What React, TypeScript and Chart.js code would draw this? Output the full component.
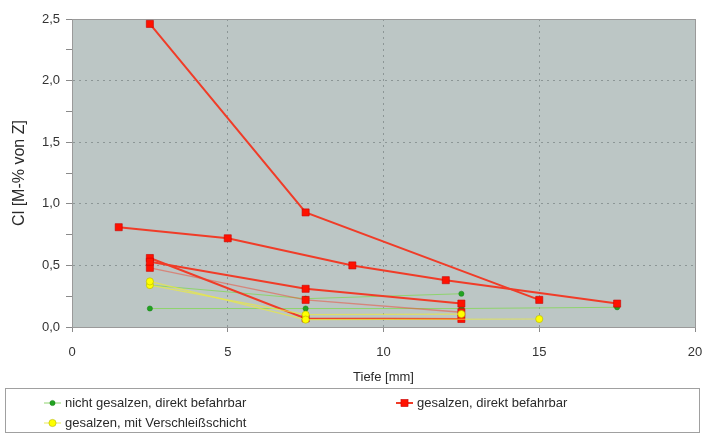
import React, { useEffect, useRef } from "react";
import { Chart, registerables } from "chart.js";

Chart.register(...registerables);

// ---- Data ----
const groupLabels = [
  "nicht gesalzen, direkt befahrbar",
  "gesalzen, direkt befahrbar",
  "gesalzen, mit Verschleißschicht",
];

// nicht gesalzen, direkt befahrbar
const green1X = [2.5, 7.5, 12.5, 17.5];
const green1Y = [0.15, 0.15, 0.15, 0.16];
const green2X = [2.5, 7.5, 12.5];
const green2Y = [0.34, 0.23, 0.27];

// gesalzen, direkt befahrbar
const red1X = [2.5, 7.5, 15];
const red1Y = [2.46, 0.93, 0.22];
const red2X = [1.5, 5, 9, 12, 17.5];
const red2Y = [0.81, 0.72, 0.5, 0.38, 0.19];
const red3X = [2.5, 7.5, 12.5];
const red3Y = [0.53, 0.31, 0.19];
const red4X = [2.5, 7.5, 12.5];
const red4Y = [0.48, 0.22, 0.12];
const red5X = [2.5, 7.5, 12.5];
const red5Y = [0.56, 0.07, 0.065];

// gesalzen, mit Verschleißschicht
const yellow1X = [2.5, 7.5, 15];
const yellow1Y = [0.37, 0.06, 0.065];
const yellow2X = [2.5, 7.5, 12.5];
const yellow2Y = [0.34, 0.1, 0.105];

const xTicks = [0, 5, 10, 15, 20];
const xAxisTitle = "Tiefe [mm]";
const yAxisTitle = "Cl [M-% von Z]";

const pts = (xs: number[], ys: number[]) => xs.map((x, i) => ({ x, y: ys[i] }));

const FONT = "'Liberation Sans', Arial, sans-serif";

const greenStyle = {
  borderColor: "#8fd46e",
  borderWidth: 1,
  pointStyle: "circle",
  pointRadius: 2.6,
  pointBackgroundColor: "#22a322",
  pointBorderColor: "#178017",
  pointBorderWidth: 0.5,
  order: 3,
};
const redStyle = {
  borderColor: "#f03c28",
  borderWidth: 2,
  pointStyle: "rect",
  pointRadius: 5,
  pointBackgroundColor: "#ff1100",
  pointBorderColor: "#c80000",
  pointBorderWidth: 0.6,
  order: 2,
};
const yellowStyle = {
  borderColor: "rgba(232,232,70,0.75)",
  borderWidth: 1.2,
  pointStyle: "circle",
  pointRadius: 3.6,
  pointBackgroundColor: "#ffff00",
  pointBorderColor: "#b5b500",
  pointBorderWidth: 0.6,
  order: 1,
};

const bgPlugin = {
  id: "plotBg",
  beforeDraw(chart: any) {
    const { ctx, chartArea: a } = chart;
    ctx.save();
    ctx.fillStyle = "#bcc6c5";
    ctx.fillRect(a.left, a.top, a.right - a.left, a.bottom - a.top);
    ctx.restore();
  },
  beforeDatasetsDraw(chart: any) {
    const { ctx, chartArea: a } = chart;
    ctx.save();
    ctx.strokeStyle = "#9a9a9a";
    ctx.lineWidth = 1;
    ctx.strokeRect(Math.round(a.left) + 0.5, Math.round(a.top) + 0.5, Math.round(a.right - a.left), Math.round(a.bottom - a.top));
    ctx.restore();
  },
};

const legendPlugin = {
  id: "boxLegend",
  afterDraw(chart: any) {
    const { ctx } = chart;
    ctx.save();
    ctx.strokeStyle = "#a0a0a0";
    ctx.lineWidth = 1;
    ctx.strokeRect(5.5, 388.5, 694, 44);
    const items = [
      { label: groupLabels[0], x: 44, y: 403, s: greenStyle },
      { label: groupLabels[1], x: 396, y: 403, s: redStyle },
      { label: groupLabels[2], x: 44, y: 423, s: yellowStyle },
    ];
    ctx.font = `13px ${FONT}`;
    ctx.textBaseline = "middle";
    ctx.textAlign = "left";
    for (const it of items) {
      const s: any = it.s;
      ctx.strokeStyle = s.borderColor;
      ctx.lineWidth = s.borderWidth;
      ctx.beginPath();
      ctx.moveTo(it.x, it.y);
      ctx.lineTo(it.x + 17, it.y);
      ctx.stroke();
      ctx.fillStyle = s.pointBackgroundColor;
      ctx.strokeStyle = s.pointBorderColor;
      ctx.lineWidth = s.pointBorderWidth;
      const cx = it.x + 8.5;
      if (s.pointStyle === "rect") {
        const h = Math.SQRT1_2 * s.pointRadius;
        ctx.fillRect(cx - h, it.y - h, 2 * h, 2 * h);
        ctx.strokeRect(cx - h, it.y - h, 2 * h, 2 * h);
      } else {
        ctx.beginPath();
        ctx.arc(cx, it.y, s.pointRadius, 0, Math.PI * 2);
        ctx.fill();
        ctx.stroke();
      }
      ctx.fillStyle = "#2a2a2a";
      ctx.fillText(it.label, it.x + 21, it.y + 0.5);
    }
    ctx.restore();
  },
};

export default function App() {
  const ref = useRef<HTMLCanvasElement | null>(null);

  useEffect(() => {
    document.body.style.margin = "0";
    const canvas = ref.current;
    if (!canvas) return;

    const datasets: any[] = [
      { label: groupLabels[0], data: pts(green1X, green1Y), ...greenStyle },
      { label: groupLabels[0], data: pts(green2X, green2Y), ...greenStyle },
      { label: groupLabels[1], data: pts(red1X, red1Y), ...redStyle },
      { label: groupLabels[1], data: pts(red2X, red2Y), ...redStyle },
      { label: groupLabels[1], data: pts(red3X, red3Y), ...redStyle },
      { label: groupLabels[1], data: pts(red4X, red4Y), ...redStyle, borderColor: "rgba(240,70,50,0.5)", borderWidth: 1.4 },
      { label: groupLabels[1], data: pts(red5X, red5Y), ...redStyle },
      { label: groupLabels[2], data: pts(yellow1X, yellow1Y), ...yellowStyle },
      { label: groupLabels[2], data: pts(yellow2X, yellow2Y), ...yellowStyle },
    ];

    const isMajorY = (v: number) => Math.abs(v * 2 - Math.round(v * 2)) < 1e-6;

    const chart = new Chart(canvas, {
      type: "line",
      data: { datasets },
      options: {
        animation: false,
        responsive: false,
        layout: { padding: { left: 0, right: 10, top: 19, bottom: 51 } },
        plugins: {
          legend: { display: false },
          tooltip: { enabled: false },
        },
        elements: { line: { tension: 0 } },
        scales: {
          x: {
            type: "linear",
            min: 0,
            max: 20,
            afterBuildTicks(scale: any) {
              scale.ticks = xTicks.map((v) => ({ value: v }));
            },
            afterFit(scale: any) {
              scale.height = 58;
              scale.paddingLeft = 0;
              scale.paddingRight = 0;
            },
            ticks: {
              font: { family: FONT, size: 13 },
              color: "#333",
              padding: 13,
              callback: (v: any) => String(v),
            },
            grid: {
              color: (c: any) => {
                const v = c.tick?.value;
                return v > 0 && v < 20 ? "#8c9696" : "rgba(0,0,0,0)";
              },
              tickColor: "#8a8a8a",
              tickLength: 5,
              lineWidth: 1,
            },
            border: { display: true, color: "#9a9a9a", width: 1, dash: [2, 4] },
            title: {
              display: true,
              text: xAxisTitle,
              font: { family: FONT, size: 13 },
              color: "#2a2a2a",
              padding: { top: 0, bottom: 0 },
            },
          },
          y: {
            type: "linear",
            min: 0,
            max: 2.5,
            afterFit(scale: any) {
              scale.width = 72;
              scale.paddingTop = 0;
              scale.paddingBottom = 0;
            },
            ticks: {
              stepSize: 0.25,
              autoSkip: false,
              font: { family: FONT, size: 13 },
              color: "#333",
              padding: 6,
              callback: (value: any) => {
                const v = Number(value);
                return isMajorY(v) ? v.toFixed(1).replace(".", ",") : "";
              },
            },
            grid: {
              color: (c: any) => {
                const v = c.tick?.value;
                return v > 0 && v < 2.5 && isMajorY(v) ? "#8c9696" : "rgba(0,0,0,0)";
              },
              tickColor: "#8a8a8a",
              tickLength: 6,
              lineWidth: 1,
            },
            border: { display: true, color: "#9a9a9a", width: 1, dash: [2, 4] },
            title: {
              display: true,
              text: yAxisTitle,
              font: { family: FONT, size: 16 },
              color: "#2a2a2a",
              padding: { top: 10, bottom: 0 },
            },
          },
        },
      },
      plugins: [bgPlugin, legendPlugin],
    } as any);

    return () => chart.destroy();
  }, []);

  return (
    <div style={{ width: 705, height: 436 }}>
      <canvas ref={ref} width={705} height={436} />
    </div>
  );
}
